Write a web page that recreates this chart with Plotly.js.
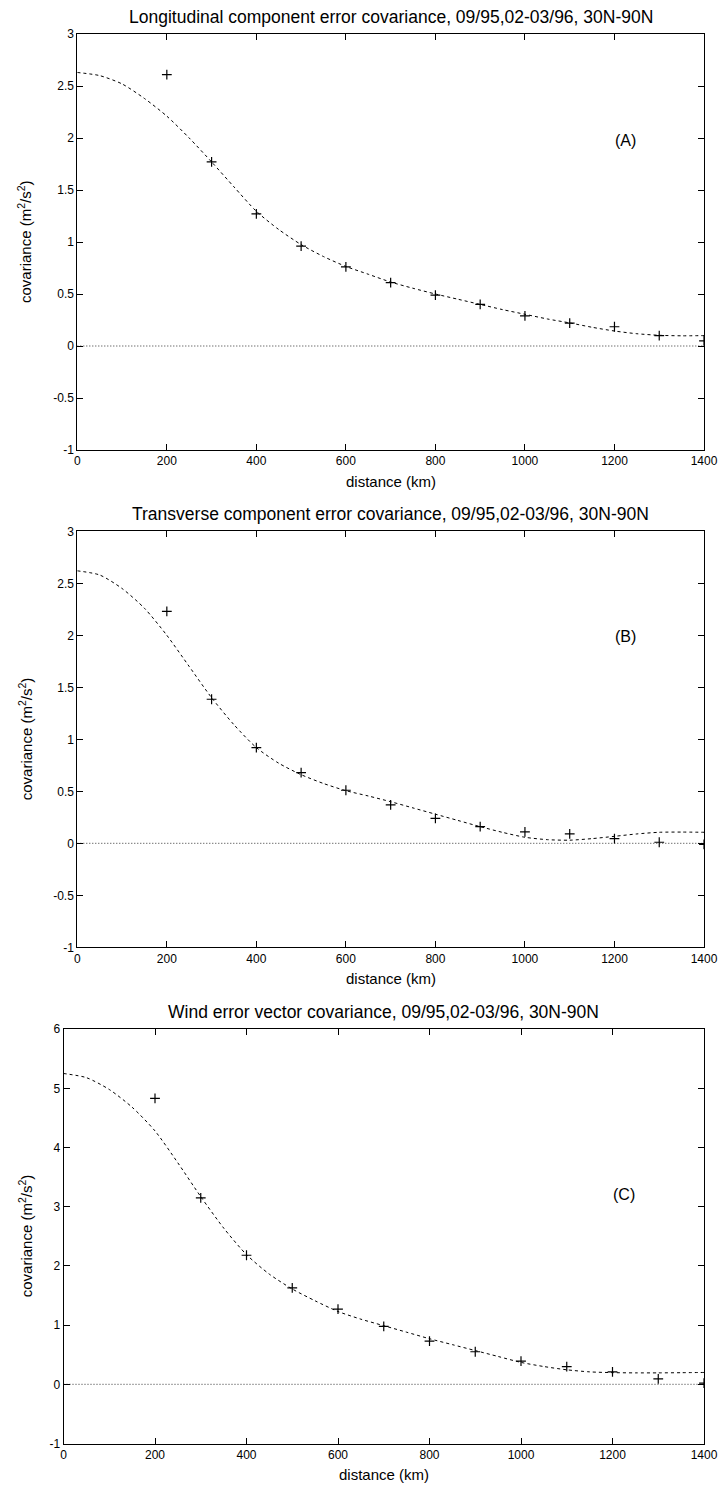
<!DOCTYPE html>
<html>
<head>
<meta charset="utf-8">
<script src="https://cdn.plot.ly/plotly-3.0.1.min.js"></script>
<style>
html,body{margin:0;padding:0;background:#fff;}
#chart{width:720px;height:1486px;}
</style>
</head>
<body>
<div id="chart"></div>
<script>
// ---------- data ----------
const distance = [200, 300, 400, 500, 600, 700, 800, 900, 1000, 1100, 1200, 1300, 1400];
const longitudinalObs = [2.61, 1.77, 1.27, 0.96, 0.76, 0.61, 0.49, 0.40, 0.29, 0.22, 0.185, 0.10, 0.05];
const transverseObs   = [2.23, 1.385, 0.92, 0.68, 0.51, 0.37, 0.24, 0.16, 0.11, 0.09, 0.045, 0.01, -0.01];
const windObs         = [4.83, 3.15, 2.18, 1.63, 1.27, 0.98, 0.73, 0.55, 0.39, 0.30, 0.21, 0.09, 0.02];

const fitDistance = [0, 50, 100, 150, 200, 250, 300, 350, 400, 450, 500, 550, 600, 650, 700,
                     750, 800, 850, 900, 950, 1000, 1050, 1100, 1150, 1200, 1250, 1300, 1350, 1400];
const longitudinalFit = [2.63, 2.60, 2.52, 2.38, 2.21, 2.00, 1.77, 1.53, 1.295, 1.12, 0.975, 0.86, 0.765, 0.69, 0.615,
                         0.555, 0.50, 0.45, 0.40, 0.35, 0.305, 0.26, 0.222, 0.18, 0.144, 0.118, 0.103, 0.098, 0.10];
const transverseFit = [2.62, 2.58, 2.45, 2.26, 2.00, 1.70, 1.40, 1.14, 0.92, 0.77, 0.66, 0.575, 0.506, 0.455, 0.40,
                       0.34, 0.28, 0.22, 0.16, 0.105, 0.058, 0.035, 0.03, 0.045, 0.067, 0.09, 0.106, 0.108, 0.106];
const windFit = [5.25, 5.18, 4.98, 4.68, 4.28, 3.74, 3.17, 2.64, 2.19, 1.86, 1.61, 1.41, 1.23, 1.10, 0.99,
                 0.88, 0.77, 0.67, 0.57, 0.47, 0.37, 0.30, 0.245, 0.21, 0.197, 0.193, 0.193, 0.196, 0.20];

const zeroLineX = [0, 1400];
const zeroLineY = [0, 0];

const xTickVals = [0, 200, 400, 600, 800, 1000, 1200, 1400];
const xTickText = ["0", "200", "400", "600", "800", "1000", "1200", "1400"];
const yTickValsAB = [-1, -0.5, 0, 0.5, 1, 1.5, 2, 2.5, 3];
const yTickTextAB = ["-1", "-0.5", "0", "0.5", "1", "1.5", "2", "2.5", "3"];
const yTickValsC = [-1, 0, 1, 2, 3, 4, 5, 6];
const yTickTextC = ["-1", "0", "1", "2", "3", "4", "5", "6"];

const panelTitles = [
  "Longitudinal component error covariance, 09/95,02-03/96, 30N-90N",
  "Transverse component error covariance, 09/95,02-03/96, 30N-90N",
  "Wind error vector covariance, 09/95,02-03/96, 30N-90N"
];
const panelLabels = ["(A)", "(B)", "(C)"];
const xTitle = "distance (km)";
const yTitle = "covariance (m<sup>2</sup>/s<sup>2</sup>)";

// ---------- layout geometry (pixels) ----------
const W = 720, H = 1486;
const FONT = "Liberation Sans, Arial, Helvetica, sans-serif";
const panels = [
  {left: 77.3, right: 704, top: 34,    bottom: 450,    yr: [-1, 3], yv: yTickValsAB, yt: yTickTextAB, lab: [1225, 1.98]},
  {left: 77.3, right: 704, top: 531.3, bottom: 947.3,  yr: [-1, 3], yv: yTickValsAB, yt: yTickTextAB, lab: [1225, 1.99]},
  {left: 63.5, right: 704, top: 1029.1, bottom: 1443.5, yr: [-1, 6], yv: yTickValsC, yt: yTickTextC, lab: [1225, 3.2]}
];
const obsSeries = [longitudinalObs, transverseObs, windObs];
const fitSeries = [longitudinalFit, transverseFit, windFit];

const traces = [];
const layout = {
  width: W, height: H,
  margin: {l: 0, r: 0, t: 0, b: 0, pad: 0},
  paper_bgcolor: "#ffffff", plot_bgcolor: "#ffffff",
  showlegend: false,
  font: {family: FONT, size: 12, color: "#000"},
  annotations: []
};

panels.forEach((p, i) => {
  const sfx = i === 0 ? "" : String(i + 1);
  const xa = "x" + sfx, ya = "y" + sfx;
  // zero line
  traces.push({x: zeroLineX, y: zeroLineY, xaxis: xa, yaxis: ya, mode: "lines",
    line: {color: "#333", width: 1, dash: "1px,2px"}, hoverinfo: "skip"});
  // fitted curve
  traces.push({x: fitDistance, y: fitSeries[i], xaxis: xa, yaxis: ya, mode: "lines",
    line: {color: "#000", width: 1, dash: "3px,3px", shape: "spline", smoothing: 0.7}});
  // observations
  traces.push({x: distance, y: obsSeries[i], xaxis: xa, yaxis: ya, mode: "markers",
    marker: {symbol: "cross-thin", size: 7, color: "#000", line: {color: "#000", width: 1.2}}});

  const axCommon = {
    showgrid: false, zeroline: false, showline: true, linecolor: "#000", linewidth: 1,
    mirror: "ticks", ticks: "inside", ticklen: 6, tickwidth: 1, tickcolor: "#000",
    tickfont: {family: FONT, size: 12, color: "#000"}, tickmode: "array", fixedrange: true
  };
  layout["xaxis" + sfx] = Object.assign({}, axCommon, {
    domain: [p.left / W, p.right / W], anchor: ya, range: [0, 1400],
    tickvals: xTickVals, ticktext: xTickText
  });
  layout["yaxis" + sfx] = Object.assign({}, axCommon, {
    domain: [1 - p.bottom / H, 1 - p.top / H], anchor: xa, range: p.yr,
    tickvals: p.yv, ticktext: p.yt
  });
  const cx = (p.left + p.right) / 2;
  // panel title
  layout.annotations.push({text: panelTitles[i], xref: "paper", yref: "paper",
    x: cx / W, y: 1 - (p.top - 17) / H, xanchor: "center", yanchor: "middle", showarrow: false,
    font: {family: FONT, size: 17.5, color: "#000"}});
  // x title
  layout.annotations.push({text: xTitle, xref: "paper", yref: "paper",
    x: cx / W, y: 1 - (p.bottom + 31) / H, xanchor: "center", yanchor: "middle", showarrow: false,
    font: {family: FONT, size: 15, color: "#000"}});
  // y title
  layout.annotations.push({text: yTitle, xref: "paper", yref: "paper", textangle: -90,
    x: 25 / W, y: 1 - ((p.top + p.bottom) / 2) / H, xanchor: "center", yanchor: "middle", showarrow: false,
    font: {family: FONT, size: 15, color: "#000"}});
  // panel label
  layout.annotations.push({text: panelLabels[i], xref: xa, yref: ya,
    x: p.lab[0], y: p.lab[1], xanchor: "center", yanchor: "middle", showarrow: false,
    font: {family: FONT, size: 16, color: "#000"}});
});

Plotly.newPlot("chart", traces, layout, {staticPlot: true, displayModeBar: false});
</script>
</body>
</html>
